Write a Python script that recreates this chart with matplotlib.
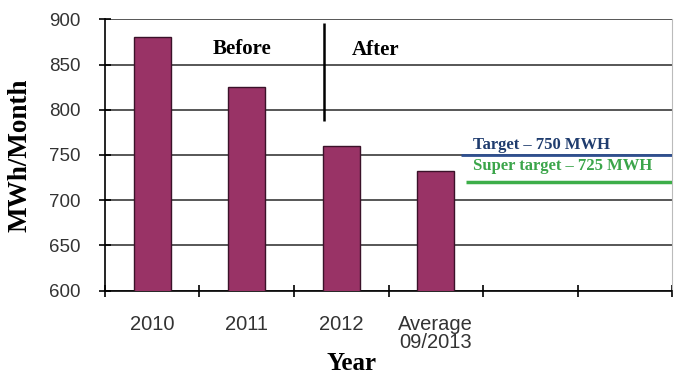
import numpy as np
import matplotlib.pyplot as plt

# Data
categories = ["2010", "2011", "2012", "Average\n09/2013"]
values = [880, 825, 760, 732]
n_slots = 6  # category slots on the x axis (last two empty)
target = 750
super_target = 720  # drawn position of the "725 MWH" line

x = np.arange(len(categories))

fig = plt.figure(figsize=(6.81, 3.75), dpi=100)
ax = fig.add_axes([0.154, 0.2253, 0.833, 0.7232])

# gridlines behind bars
for yv in range(600, 901, 50):
    ax.axhline(yv, color='#3a3a3a', linewidth=1.2, zorder=1)

ax.bar(x, values, width=0.39, color='#993366', edgecolor='#3b1229',
       linewidth=1.0, zorder=3)

ax.set_xlim(-0.5, n_slots - 0.5)
ax.set_ylim(600, 900)

# target lines
ax.hlines(target, 3.27, n_slots - 0.5, color='#2f4f8f', linewidth=2, zorder=4)
ax.hlines(super_target, 3.32, n_slots - 0.5, color='#3dae49', linewidth=2.5, zorder=4)
ax.text(3.39, 761, "Target \u2013 750 MWH", color='#1f3c6e', fontsize=12,
        fontfamily='Liberation Serif', fontweight='bold', va='center', ha='left')
ax.text(3.39, 738, "Super target \u2013 725 MWH", color='#3ba54a', fontsize=12,
        fontfamily='Liberation Serif', fontweight='bold', va='center', ha='left')

# before / after divider
ax.vlines(1.82, 787, 896, color='black', linewidth=1.8, zorder=4)
ax.text(0.955, 867, "Before", fontsize=15, fontfamily='Liberation Serif',
        fontweight='bold', ha='center', va='center')
ax.text(2.36, 866, "After", fontsize=15, fontfamily='Liberation Serif',
        fontweight='bold', ha='center', va='center')

# ticks: boundaries as major (no labels), categories as minor (labels)
ax.set_xticks(np.arange(-0.5, n_slots, 1.0))
ax.set_xticklabels([])
ax.set_xticks(x, minor=True)
ax.set_xticklabels(categories, minor=True, fontsize=14.5, linespacing=0.95,
                   fontfamily='Liberation Sans', color='#333333', va='top')
ax.tick_params(axis='x', which='major', direction='inout', length=9, width=1.2)
ax.tick_params(axis='x', which='minor', length=0, pad=17.5)

ax.set_yticks(range(600, 901, 50))
ax.set_yticklabels([str(v) for v in range(600, 901, 50)], fontsize=13.5,
                   fontfamily='Liberation Sans', color='#333333')
ax.tick_params(axis='y', direction='inout', length=9, width=1.2, pad=13)

ax.spines['top'].set_visible(False)
ax.spines['right'].set_color('#bbbbbb')
ax.spines['left'].set_linewidth(1.2)
ax.spines['bottom'].set_linewidth(1.2)

ax.set_xlabel("Year", fontsize=18, fontfamily='Liberation Serif', fontweight='bold')
ax.xaxis.set_label_coords(0.434, -0.228)
ax.set_ylabel("MWh/Month", fontsize=19.5, fontfamily='Liberation Serif', fontweight='bold')
ax.yaxis.set_label_coords(-0.127, 0.498)

fig.savefig("out.png", dpi=100)
